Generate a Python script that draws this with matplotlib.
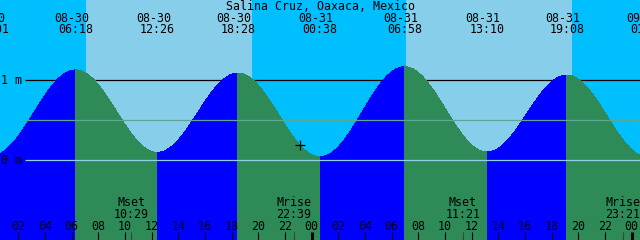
import numpy as np
import matplotlib
matplotlib.use("Agg")
import matplotlib.pyplot as plt
import matplotlib.transforms as mtransforms
from datetime import datetime

# ---------------- data ----------------
title = "Salina Cruz, Oaxaca, Mexico"
year = 2023
tide_dates = ["08-30", "08-30", "08-30", "08-30", "08-31", "08-31", "08-31", "08-31", "09-01"]
tide_times = ["00:01", "06:18", "12:26", "18:28", "00:38", "06:58", "13:10", "19:08", "01:12"]
tide_heights = [0.05, 1.12, 0.09, 1.08, 0.035, 1.16, 0.094, 1.056, 0.03]  # metres

sunrise = ["08-30 07:05", "08-31 07:05"]
sunset = ["08-30 19:32", "08-31 19:32"]

moon_names = ["Mset", "Mrise", "Mset", "Mrise"]
moon_dates = ["08-30", "08-30", "08-31", "08-31"]
moon_times = ["10:29", "22:39", "11:21", "23:21"]

now_stamp = "08-30 23:08"
view_start = "08-30 00:38"
view_hours = 48
level_values = [1.0, 0.0]
level_labels = ["1 m", "0 m"]
msl_value = 0.49
hour_ticks = list(range(2, 49, 2))

# ---------------- helpers ----------------
BASE = datetime(year, 8, 30, 0, 0)


def hours(stamp):
    d = datetime.strptime(f"{year}-{stamp}", "%Y-%m-%d %H:%M")
    return (d - BASE).total_seconds() / 3600.0


tide_t = np.array([hours(f"{d} {t}") for d, t in zip(tide_dates, tide_times)])
tide_h = np.array(tide_heights)
x0 = hours(view_start)
x1 = x0 + view_hours

W, H = 640, 240
PX_PER_M = 80.0
ZERO_ROW = 159.5  # pixel (from top) of 0 m
ymax = ZERO_ROW / PX_PER_M
ymin = -(H - ZERO_ROW) / PX_PER_M

NIGHT = "#00BFFF"
DAY = "#87CEEB"
RISE = "#0000FF"
FALL = "#2E8B57"
FONT = dict(family="DejaVu Sans Mono", fontsize=8.4, color="black")

fig = plt.figure(figsize=(W / 100, H / 100), dpi=100)
ax = fig.add_axes([0, 0, 1, 1])
ax.set_xlim(x0, x1)
ax.set_ylim(ymin, ymax)
ax.set_axis_off()
ax.add_patch(plt.Rectangle((0, 0), 1, 1, transform=ax.transAxes, color=NIGHT, zorder=0))

# day shading
for r, s in zip(sunrise, sunset):
    ax.axvspan(hours(r), hours(s), color=DAY, lw=0, zorder=0.5, antialiased=False)

# labelled level line (behind the water)
line_start = x0 + 25 / (W / view_hours)
ax.hlines(1.0, line_start, x1, color="black", lw=0.9, zorder=1)

# tide curve: half-cosine between successive extremes
curve_t, curve_h = [], []
for i in range(len(tide_t) - 1):
    s = np.linspace(0, 1, 300)
    t = tide_t[i] + s * (tide_t[i + 1] - tide_t[i])
    h = tide_h[i] + (tide_h[i + 1] - tide_h[i]) * (1 - np.cos(np.pi * s)) / 2
    col = RISE if tide_h[i + 1] > tide_h[i] else FALL
    ax.fill_between(t, ymin - 1, h, color=col, lw=0, antialiased=False, zorder=2)
    curve_t.append(t)
    curve_h.append(h)
curve_t = np.concatenate(curve_t)
curve_h = np.concatenate(curve_h)

# other level lines (drawn over the water)
ax.hlines(msl_value, line_start, x1, color="#5BA695", lw=0.9, zorder=3)
ax.hlines(0.0, line_start, x1, color="#8FD0E8", lw=0.9, zorder=3)

# level labels
lev_tr = mtransforms.blended_transform_factory(ax.transAxes, ax.transData)
lev_tr = mtransforms.offset_copy(lev_tr, fig=fig, x=0, y=-4, units="dots")
for v, lab in zip(level_values, level_labels):
    ax.text(1 / W, v, lab, transform=lev_tr, ha="left", va="baseline", zorder=5, **FONT)

# now marker
t_now = hours(now_stamp)
ax.plot([t_now], [np.interp(t_now, curve_t, curve_h)], marker="+", ms=6.5, mew=0.9,
        color="black", zorder=5)

# title and extreme labels at the top
xtr = ax.get_xaxis_transform()


def yfrac(px_from_top):
    return 1 - px_from_top / H


ax.text(0.5, yfrac(10), title, transform=ax.transAxes, ha="center", va="baseline", zorder=5, **FONT)
date_tr = mtransforms.offset_copy(xtr, fig=fig, x=-4, y=0, units="dots")
for t, d, tm in zip(tide_t, tide_dates, tide_times):
    ax.text(t, yfrac(22), d, transform=date_tr, ha="center", va="baseline", zorder=5, clip_on=False, **FONT)
    ax.text(t, yfrac(33), tm, transform=xtr, ha="center", va="baseline", zorder=5, clip_on=False, **FONT)

# moon events
for n, d, tm in zip(moon_names, moon_dates, moon_times):
    t = hours(f"{d} {tm}")
    ax.text(t, yfrac(206), n, transform=xtr, ha="center", va="baseline", zorder=5, **FONT)
    ax.text(t, yfrac(218), tm, transform=xtr, ha="center", va="baseline", zorder=5, **FONT)
    ax.vlines(t, 0, 8 / H, transform=xtr, color="#404040", lw=0.8, zorder=4)

# hour ticks and labels
for h in hour_ticks:
    th = x0 - x0 + h  # hours since 08-30 00:00
    lw = 2.2 if h % 24 == 0 else 0.8
    ax.vlines(th, 0, 8 / H, transform=xtr, color="black", lw=lw, zorder=4)
    ax.text(th, yfrac(230), f"{h % 24:02d}", transform=xtr, ha="center", va="baseline", zorder=5, **FONT)

fig.savefig("out.png", dpi=100)
